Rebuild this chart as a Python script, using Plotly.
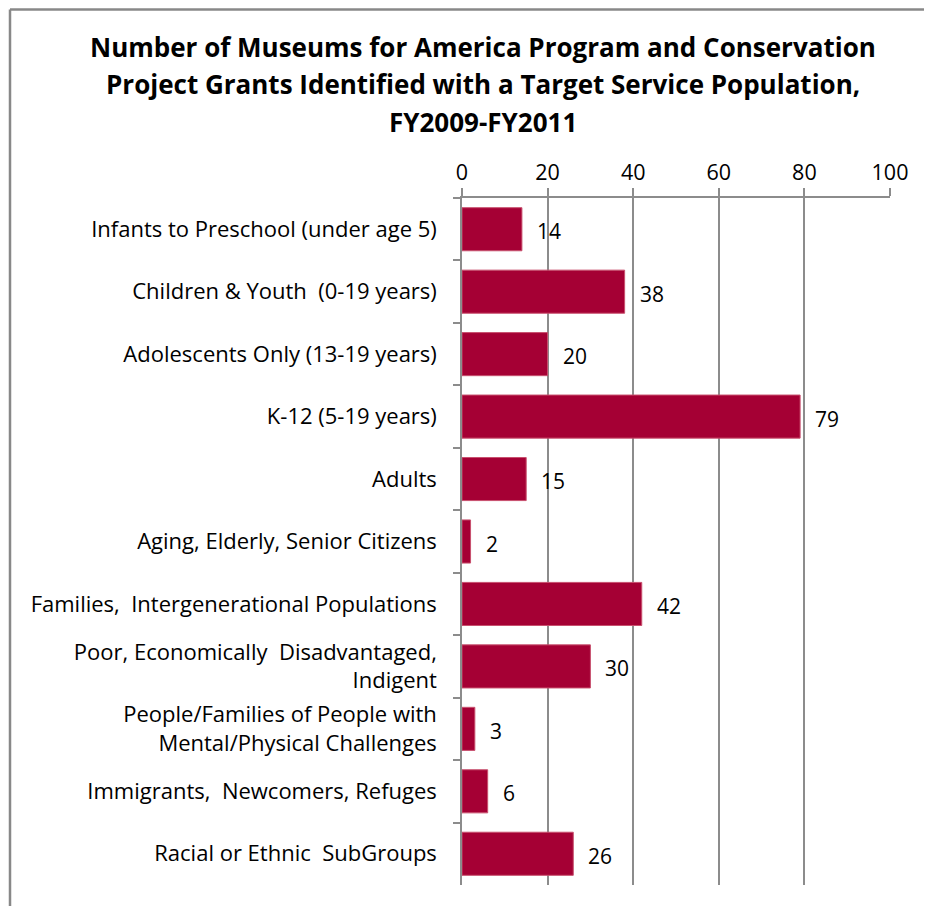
import plotly.graph_objects as go

categories = [
    "Infants to Preschool (under age 5)",
    "Children & Youth  (0-19 years)",
    "Adolescents Only (13-19 years)",
    "K-12 (5-19 years)",
    "Adults",
    "Aging, Elderly, Senior Citizens",
    "Families,  Intergenerational Populations",
    "Poor, Economically  Disadvantaged,<br>Indigent",
    "People/Families of People with<br>Mental/Physical Challenges",
    "Immigrants,  Newcomers, Refuges",
    "Racial or Ethnic  SubGroups",
]
values = [14, 38, 20, 79, 15, 2, 42, 30, 3, 6, 26]
x_ticks = [0, 20, 40, 60, 80, 100]
title_lines = [
    "Number of Museums for America Program and Conservation",
    "Project Grants Identified with a Target Service Population,",
    "FY2009-FY2011",
]

FONT = "Open Sans"
BAR = "#A50034"
GRID = "#8C8C8C"

# page body has an 8px default margin; keep the figure small enough to avoid scrollbars
OFF = 8
W, H = 916, 898
PL, PR, PT, PB = 462 - OFF, 890 - OFF, 198 - OFF, 885 - OFF
PW, PH = PR - PL, PB - PT

def px_x(px):
    return (px - OFF - PL) / PW

def px_y(py):
    return (PB - (py - OFF)) / PH

fig = go.Figure()
fig.add_trace(go.Bar(
    x=values, y=categories, orientation="h",
    marker=dict(color=BAR, line=dict(color="#C8506E", width=1)),
    width=0.69, showlegend=False, hoverinfo="skip",
))

for c, v in zip(categories, values):
    fig.add_annotation(x=v, y=c, text=str(v), showarrow=False,
                       xanchor="left", xshift=13, yshift=-2,
                       font=dict(family=FONT, size=21, color="black"))

for i, line in enumerate(title_lines):
    fig.add_annotation(xref="paper", yref="paper",
                       x=px_x(483), y=px_y(47 + 37.5 * i),
                       xanchor="center", yanchor="middle",
                       text=f"<b>{line}</b>", showarrow=False,
                       font=dict(family=FONT, size=26, color="black"))

fig.update_layout(
    width=W, height=H,
    margin=dict(l=PL, r=W - PR, t=PT, b=H - PB),
    paper_bgcolor="white", plot_bgcolor="white",
    font=dict(family=FONT, size=20, color="black"),
    xaxis=dict(
        side="top", range=[0, 100], tickvals=x_ticks,
        showgrid=True, gridcolor=GRID, gridwidth=1.5,
        showline=True, linecolor=GRID, linewidth=1.5,
        ticks="outside", ticklen=8, tickcolor=GRID, tickwidth=1.5,
        tickfont=dict(family=FONT, size=21.5),
        zeroline=False, fixedrange=True,
    ),
    yaxis=dict(
        autorange="reversed", type="category",
        showline=True, linecolor=GRID, linewidth=1.5,
        ticks="outside", ticklen=7, tickcolor=GRID, tickwidth=1.5,
        tickson="boundaries", showgrid=False,
        tickfont=dict(family=FONT, size=22),
        ticklabelstandoff=19,
    ),
    shapes=[
        dict(type="line", xref="paper", yref="paper",
             x0=px_x(10), x1=px_x(10), y0=px_y(1100), y1=px_y(9.5),
             line=dict(color="#888888", width=2.5), layer="below"),
        dict(type="line", xref="paper", yref="paper",
             x0=px_x(10), x1=px_x(1100), y0=px_y(9.5), y1=px_y(9.5),
             line=dict(color="#888888", width=2.5), layer="below"),
    ],
)

fig.write_html("out.html")
